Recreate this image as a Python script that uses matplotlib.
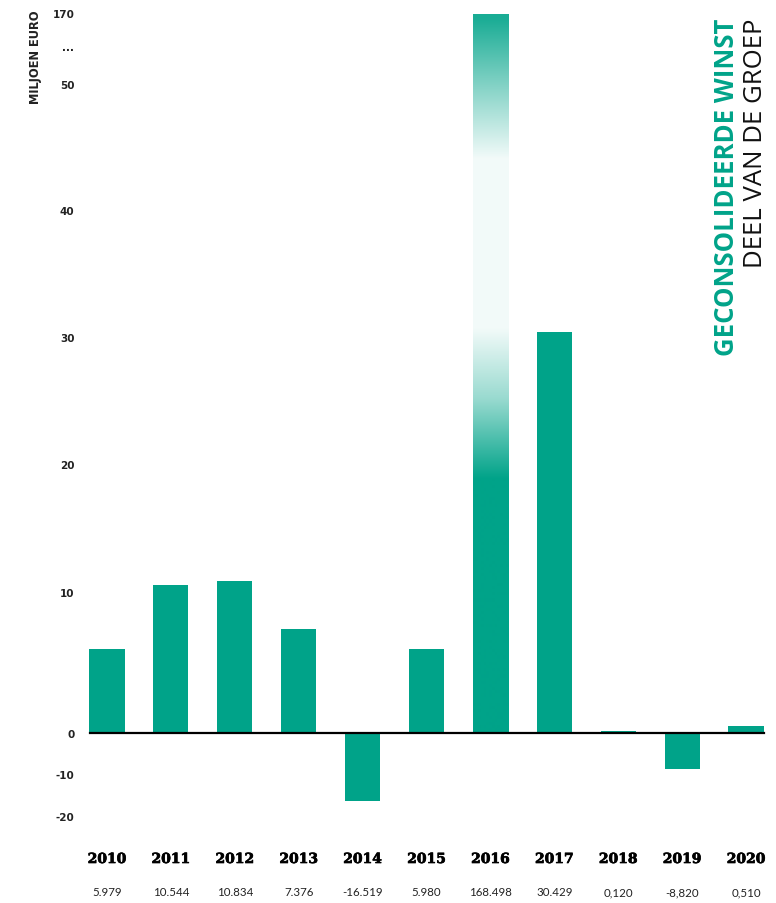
import numpy as np
import matplotlib
matplotlib.use("Agg")
from matplotlib import pyplot as plt
import matplotlib.patheffects as pe

# data (miljoen euro)
years = ["2010", "2011", "2012", "2013", "2014", "2015", "2016", "2017", "2018", "2019", "2020"]
values = [5.979, 10.544, 10.834, 7.376, -16.519, 5.980, 168.498, 30.429, 0.120, -8.820, 0.510]
value_labels = ["5.979", "10.544", "10.834", "7.376", "-16.519", "5.980", "168.498", "30.429", "0,120", "-8,820", "0,510"]
tick_vals = [-20, -10, 0, 10, 20, 30, 40, 50, 114, 170]
tick_labels = ["-20", "-10", "0", "10", "20", "30", "40", "50", "...", "170"]

TEAL = "#00a389"
W, H = 776, 904

# broken axis: pixel heights above the zero line for each value
brk_vals = np.array([-20, -10, 0, 10, 20, 30, 40, 50, 170], dtype=float)
brk_pix = np.array([-83, -41, 0, 141, 269, 396, 523, 649, 720], dtype=float)


def fwd(v):
    return np.interp(v, brk_vals, brk_pix)


def inv(p):
    return np.interp(p, brk_pix, brk_vals)


fig = plt.figure(figsize=(W / 100, H / 100), dpi=100)
ax_left, ax_right, ax_top, ax_bot = 80, 770, 14, 817
ax = fig.add_axes([ax_left / W, 1 - ax_bot / H, (ax_right - ax_left) / W, (ax_bot - ax_top) / H])
ax.set_yscale("function", functions=(fwd, inv))

x = np.arange(len(years))
step = 63.9
xmin = -(107 - ax_left) / step
xmax = xmin + (ax_right - ax_left) / step
bars = ax.bar(x, values, width=0.55, color=TEAL, edgecolor="none", zorder=2)

# gradient on the 2016 bar
b16 = bars[6]
b16.set_facecolor("none")
rows = np.arange(ax_top, ax_bot) + 0.5
w = np.interp(rows, [14, 20, 85, 160, 330, 400, 480, 900], [0.9, 0.9, 0.5, 0.05, 0.05, 0.4, 1.0, 1.0])
teal_rgb = np.array(matplotlib.colors.to_rgb(TEAL))
img = (1 - w)[:, None] * np.ones(3) + w[:, None] * teal_rgb
img = img[:, None, :]
im = ax.imshow(img, extent=[0, 1, 0, 1], transform=ax.transAxes, aspect="auto",
               interpolation="bilinear", zorder=2)
im.set_clip_path(b16)
ax.set_xlim(xmin, xmax)
ax.set_ylim(-20, 170)

# zero line
ax.axhline(0, xmin=(90 - ax_left) / (ax_right - ax_left), xmax=(764 - ax_left) / (ax_right - ax_left),
           color="black", lw=1.6, zorder=3)

for s in ax.spines.values():
    s.set_visible(False)
ax.set_xticks([])
ax.set_yticks(tick_vals)
ax.set_yticklabels(tick_labels, fontsize=7.5, fontweight="bold", color="#222222")
ax.tick_params(axis="y", length=0, pad=4)
ax.yaxis.set_minor_locator(matplotlib.ticker.NullLocator())

# year and value labels under the chart
tr = ax.get_xaxis_transform()
hgt = ax_bot - ax_top
for i in range(len(years)):
    ax.text(x[i], -(860 - ax_bot) / hgt, years[i], transform=tr, ha="center", va="center",
            fontsize=10, fontweight="bold", family="DejaVu Serif", color="black",
            path_effects=[pe.withStroke(linewidth=0.5, foreground="black")])
    ax.text(x[i], -(893 - ax_bot) / hgt, value_labels[i], transform=tr, ha="center",
            va="center", fontsize=8.3, family="Lato", color="#222222")

# axis unit
fig.text(35 / W, 1 - 10 / H, "MILJOEN EURO", rotation=90, ha="center", va="top",
         fontsize=8.3, fontweight="bold", color="#222222")

# title
fig.text(726 / W, 1 - 19 / H, "GECONSOLIDEERDE WINST", rotation=90, ha="center", va="top",
         fontsize=18.5, fontweight="bold", family="Open Sans", color=TEAL)
fig.text(756 / W, 1 - 19 / H, "DEEL VAN DE GROEP", rotation=90, ha="center", va="top",
         fontsize=18.5, family="Open Sans", color="#111111")

fig.savefig("out.png", dpi=100)
